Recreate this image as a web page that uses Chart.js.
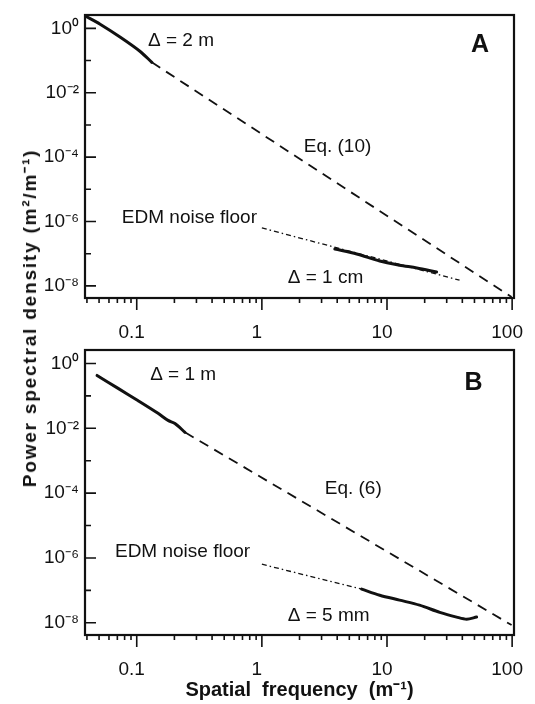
<!DOCTYPE html>
<html>
<head>
<meta charset="utf-8">
<script src="https://cdn.jsdelivr.net/npm/chart.js@4.4.0/dist/chart.umd.min.js"></script>
<style>
  html, body { margin: 0; padding: 0; background: #fff; }
  #wrap { position: relative; width: 535px; height: 704px; }
  #wrap canvas { position: absolute; left: 0; }
  #chartA { top: 0; }
  #chartB { top: 340px; }
  #ytitle {
    position: absolute; left: 29px; top: 318px;
    transform: translate(-50%, -50%) rotate(-90deg);
    font: bold 19px "Liberation Sans", Arial, sans-serif;
    letter-spacing: 1.8px; white-space: nowrap; color: #111;
  }
</style>
</head>
<body>
<div id="wrap">
  <canvas id="chartA" width="535" height="340" style="width:535px;height:340px"></canvas>
  <canvas id="chartB" width="535" height="364" style="width:535px;height:364px"></canvas>
  <div id="ytitle">Power spectral density (m²/m⁻¹)</div>
</div>
<script>
// axes (shared by both panels)
const xRange = [0.0386, 103.5];          // spatial frequency, m^-1
const yRange = [4.2e-9, 2.6];            // PSD, m^2/m^-1
const xTickValues = [0.1, 1, 10, 100];
const xTickLabels = ['0.1', '1', '10', '100'];
const yTickPowers = [-8, -7, -6, -5, -4, -3, -2, -1, 0];

// panel A : Δ = 2 m and Δ = 1 cm surveys
const aCoarseFreq = [0.039, 0.051, 0.074, 0.106, 0.132];
const aCoarsePsd  = [2.4, 1.35, 0.53, 0.195, 0.088];
const aFineFreq   = [3.83, 5.73, 8.75, 12.6, 17.3, 24.9];
const aFinePsd    = [1.4e-7, 9.8e-8, 5.9e-8, 4.4e-8, 3.6e-8, 2.7e-8];
const aModelFreq  = [0.132, 99];          // Eq. (10)
const aModelPsd   = [0.088, 4.5e-9];
const aNoiseFreq  = [1.0, 38];            // EDM noise floor
const aNoisePsd   = [6.3e-7, 1.5e-8];

// panel B : Δ = 1 m and Δ = 5 mm surveys
const bCoarseFreq = [0.0482, 0.071, 0.102, 0.148, 0.178, 0.202, 0.243];
const bCoarsePsd  = [0.427, 0.17, 0.072, 0.029, 0.0175, 0.014, 0.0075];
const bFineFreq   = [6.28, 8.75, 12.6, 18.2, 26.4, 36, 43.3, 52];
const bFinePsd    = [1.09e-7, 7.1e-8, 5.0e-8, 3.5e-8, 2.1e-8, 1.5e-8, 1.29e-8, 1.5e-8];
const bModelFreq  = [0.243, 99];          // Eq. (6)
const bModelPsd   = [0.0075, 8.5e-9];
const bNoiseFreq  = [1.0, 6.28];
const bNoisePsd   = [6.4e-7, 1.09e-7];

// text notes, anchored at data coordinates (left edge, vertical middle)
const aNoteText = ['Δ = 2 m', 'A', 'Eq. (10)', 'EDM noise floor', 'Δ = 1 cm'];
const aNoteX    = [0.123, 47, 2.16, 0.076, 1.61];
const aNoteY    = [0.40, 0.30, 2.1e-4, 1.3e-6, 1.74e-8];
const bNoteText = ['Δ = 1 m', 'B', 'Eq. (6)', 'EDM noise floor', 'Δ = 5 mm'];
const bNoteX    = [0.128, 41.7, 3.18, 0.067, 1.61];
const bNoteY    = [0.46, 0.24, 1.4e-4, 1.6e-6, 1.6e-8];

const FONT = '"Liberation Sans", Arial, Helvetica, sans-serif';
const INK = '#111';
const SUP = {'-': '⁻', '0': '⁰', '1': '¹', '2': '²', '3': '³', '4': '⁴', '5': '⁵', '6': '⁶', '7': '⁷', '8': '⁸', '9': '⁹'};
const sup = s => String(s).split('').map(c => SUP[c]).join('');

const solid   = { borderWidth: 3, tension: 0.3, borderCapStyle: 'round', borderJoinStyle: 'round' };
const dashed  = { borderWidth: 1.8, borderDash: [10, 7] };
const dashDot = { borderWidth: 1.3, borderDash: [5, 3, 1.5, 3] };

function series(freq, psd, style) {
  return Object.assign({
    data: freq.map((f, i) => ({ x: f, y: psd[i] })),
    borderColor: INK, pointRadius: 0, fill: false
  }, style);
}

// box, inward y ticks, outward x ticks and the text notes
const framePlugin = {
  id: 'frame',
  afterDraw(chart, args, opts) {
    const { ctx, chartArea: a, scales: { x, y } } = chart;
    ctx.save();
    ctx.strokeStyle = INK;
    ctx.lineWidth = 2.2;
    ctx.strokeRect(a.left, a.top, a.right - a.left, a.bottom - a.top);
    ctx.lineWidth = 1.6;
    ctx.beginPath();
    yTickPowers.forEach(p => {
      const py = y.getPixelForValue(Math.pow(10, p));
      ctx.moveTo(a.left, py);
      ctx.lineTo(a.left + (p % 2 === 0 ? 11 : 6), py);
    });
    for (let d = -2; d <= 2; d++) {
      for (let m = 1; m <= 9; m++) {
        const v = m * Math.pow(10, d);
        if (v < x.min || v > x.max) continue;
        const px = x.getPixelForValue(v);
        ctx.moveTo(px, a.bottom);
        ctx.lineTo(px, a.bottom + (m === 1 ? 12 : 5));
      }
    }
    ctx.stroke();

    ctx.fillStyle = INK;
    ctx.textAlign = 'left';
    ctx.textBaseline = 'middle';
    opts.text.forEach((t, i) => {
      const big = t.length === 1;
      ctx.font = (big ? 'bold 25px ' : '19px ') + FONT;
      ctx.fillText(t, x.getPixelForValue(opts.x[i]), y.getPixelForValue(opts.y[i]));
    });
    ctx.restore();
  }
};

function makePanel(id, datasets, notes, padTop, xHeight, withTitle) {
  return new Chart(document.getElementById(id), {
    type: 'line',
    data: { datasets: datasets },
    plugins: [framePlugin],
    options: {
      responsive: false,
      animation: false,
      layout: { padding: { top: padTop, right: 21, bottom: 0, left: 0 } },
      plugins: {
        legend: { display: false },
        tooltip: { enabled: false },
        frame: notes
      },
      scales: {
        x: {
          type: 'logarithmic', bounds: 'data',
          min: xRange[0], max: xRange[1],
          afterBuildTicks: s => { s.ticks = xTickValues.map(v => ({ value: v })); },
          afterFit: s => { s.height = xHeight; s.paddingLeft = 0; s.paddingRight = 0; },
          grid: { display: false, drawTicks: false },
          border: { display: false },
          ticks: {
            autoSkip: false, maxRotation: 0, padding: 23, labelOffset: -5,
            color: INK, font: { family: FONT, size: 19 },
            callback: v => { const i = xTickValues.indexOf(v); return i >= 0 ? xTickLabels[i] : ''; }
          },
          title: {
            display: withTitle,
            text: 'Spatial  frequency  (m⁻¹)',
            color: INK,
            font: { family: FONT, size: 20, weight: 'bold' },
            padding: { top: 0, bottom: 2 }
          }
        },
        y: {
          type: 'logarithmic', bounds: 'data',
          min: yRange[0], max: yRange[1],
          afterBuildTicks: s => { s.ticks = yTickPowers.map(p => ({ value: Math.pow(10, p) })); },
          afterFit: s => { s.width = 85; s.paddingTop = 0; s.paddingBottom = 0; },
          grid: { display: false, drawTicks: false },
          border: { display: false },
          ticks: {
            autoSkip: false, padding: 6,
            color: INK, font: { family: FONT, size: 19 },
            callback: v => {
              const p = Math.round(Math.log10(v));
              return p % 2 === 0 ? '10' + sup(p) : '';
            }
          }
        }
      }
    }
  });
}

makePanel('chartA', [
  series(aCoarseFreq, aCoarsePsd, solid),
  series(aFineFreq, aFinePsd, solid),
  series(aModelFreq, aModelPsd, dashed),
  series(aNoiseFreq, aNoisePsd, dashDot)
], { text: aNoteText, x: aNoteX, y: aNoteY }, 15, 42, false);

makePanel('chartB', [
  series(bCoarseFreq, bCoarsePsd, solid),
  series(bFineFreq, bFinePsd, solid),
  series(bModelFreq, bModelPsd, dashed),
  series(bNoiseFreq, bNoisePsd, dashDot)
], { text: bNoteText, x: bNoteX, y: bNoteY }, 10, 69, true);
</script>
</body>
</html>
